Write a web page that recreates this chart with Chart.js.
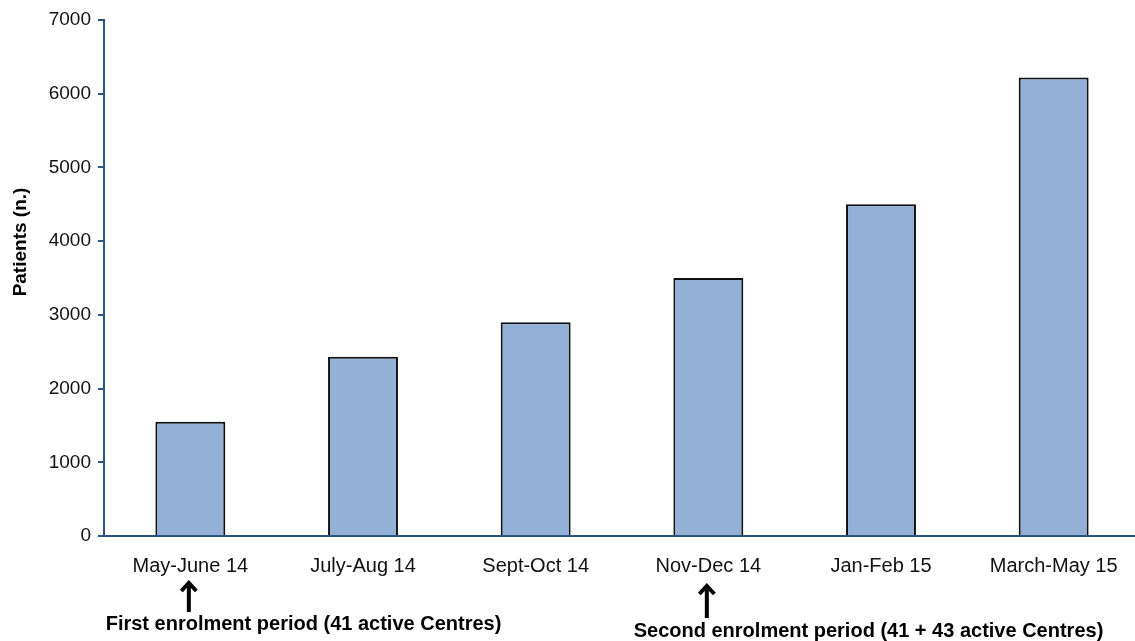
<!DOCTYPE html>
<html>
<head>
<meta charset="utf-8">
<script src="https://cdn.jsdelivr.net/npm/chart.js@4/dist/chart.umd.min.js"></script>
<style>
  html, body { margin: 0; padding: 0; background: #ffffff; overflow: hidden; }
  #wrap { width: 1135px; height: 641px; position: relative; overflow: hidden; }
</style>
</head>
<body>
<div id="wrap"><canvas id="chart" width="1140" height="641"></canvas></div>
<script>
// Patients enrolled per period
const periods = ['May-June 14', 'July-Aug 14', 'Sept-Oct 14', 'Nov-Dec 14', 'Jan-Feb 15', 'March-May 15'];
const patients = [1550, 2430, 2900, 3500, 4500, 6220];
const yTicks = [0, 1000, 2000, 3000, 4000, 5000, 6000, 7000];
const yTitle = 'Patients (n.)';
// Enrolment notes: which period each arrow points at
const notePeriods = ['May-June 14', 'Nov-Dec 14'];
const noteTexts = ['First enrolment period (41 active Centres)', 'Second enrolment period (41 + 43 active Centres)'];

const AXIS = '#2b5585';
const FONT = "'Liberation Sans', Arial, sans-serif";

// Draws the rotated axis title and the arrow notes under the category axis
const notesPlugin = {
  id: 'enrolmentNotes',
  afterDraw(chart) {
    const ctx = chart.ctx;
    const x = chart.scales.x;
    ctx.save();
    ctx.fillStyle = '#000';
    ctx.font = 'bold 19px ' + FONT;
    ctx.textAlign = 'center';
    ctx.textBaseline = 'middle';
    ctx.translate(21, 242);
    ctx.rotate(-Math.PI / 2);
    ctx.fillText(yTitle, 0, 0);
    ctx.restore();

    const arrowTops = [581, 584];
    const arrowBottoms = [612, 618];
    const textX = [303.5, 868.5];
    const textY = [624, 631];
    notePeriods.forEach((p, i) => {
      const cx = x.getPixelForValue(periods.indexOf(p)) - 1.5;
      const top = arrowTops[i];
      ctx.save();
      ctx.strokeStyle = '#000';
      ctx.lineWidth = 4;
      ctx.lineCap = 'butt';
      ctx.beginPath();
      ctx.moveTo(cx, top + 2);
      ctx.lineTo(cx, arrowBottoms[i]);
      ctx.stroke();
      ctx.lineJoin = 'miter';
      ctx.beginPath();
      ctx.moveTo(cx - 7.5, top + 10);
      ctx.lineTo(cx, top + 2);
      ctx.lineTo(cx + 7.5, top + 10);
      ctx.stroke();
      ctx.fillStyle = '#000';
      ctx.font = 'bold 20px ' + FONT;
      ctx.textAlign = 'center';
      ctx.textBaseline = 'middle';
      ctx.fillText(noteTexts[i], textX[i], textY[i]);
      ctx.restore();
    });
  }
};

new Chart(document.getElementById('chart'), {
  type: 'bar',
  data: {
    labels: periods,
    datasets: [{
      data: patients,
      backgroundColor: '#93b1d7',
      borderColor: '#111111',
      borderWidth: 2,
      barPercentage: 0.405,
      categoryPercentage: 1.0
    }]
  },
  options: {
    responsive: false,
    animation: false,
    devicePixelRatio: 1,
    layout: { padding: { top: 20, right: 0, bottom: 0, left: 0 } },
    plugins: { legend: { display: false }, tooltip: { enabled: false } },
    scales: {
      x: {
        grid: { display: false },
        border: { display: true, color: AXIS, width: 2 },
        ticks: { color: '#111', font: { family: FONT, size: 20 }, padding: 10, maxRotation: 0, autoSkip: false },
        afterFit(scale) { scale.height = 105; }
      },
      y: {
        min: 0,
        max: 7000,
        afterBuildTicks(scale) { scale.ticks = yTicks.map(v => ({ value: v })); },
        grid: { display: true, drawOnChartArea: false, drawTicks: true, tickLength: 6, color: AXIS, lineWidth: 2 },
        border: { display: true, color: AXIS, width: 2 },
        ticks: { color: '#111', font: { family: FONT, size: 19 }, padding: 7, callback: (v) => String(v) },
        afterFit(scale) { scale.width = 104; }
      }
    }
  },
  plugins: [notesPlugin]
});
</script>
</body>
</html>
